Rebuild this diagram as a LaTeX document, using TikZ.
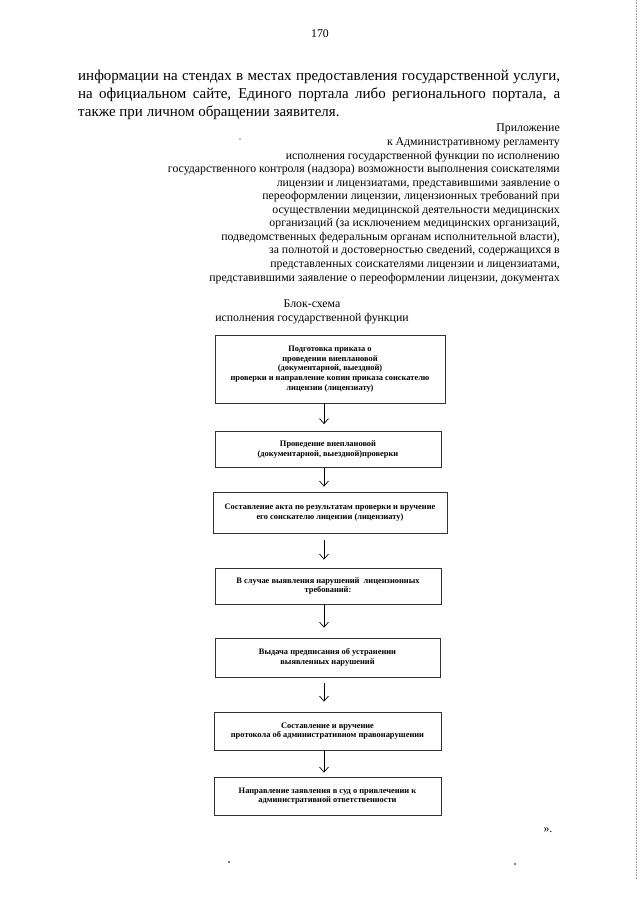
\documentclass[tikz,border=0pt]{standalone}
\usepackage{fontspec}
\setmainfont{Liberation Serif}
\usetikzlibrary{arrows.meta}
\begin{document}
\begin{tikzpicture}[x=1pt,y=-1pt,
  boxst/.style={draw=black!80, line width=0.8pt, rectangle, inner sep=0pt, align=center,
    font=\fontsize{8.4}{9.6}\selectfont\bfseries},
  arr/.style={draw=black, line width=0.7pt, -{Straight Barb[length=5pt,width=9pt]}},
  plain/.style={inner sep=0pt, font=\fontsize{11.8}{13.55}\selectfont},
  dotst/.style={fill=black}
]
\useasboundingbox (0,0) rectangle (640,905);
\fill[white] (0,0) rectangle (640,905);

% page number
\node[plain, anchor=base] (pnum) at (320,37) {170};

% body text (base anchor = last line)
\node[inner sep=0pt, anchor=base west, align=left, font=\fontsize{15}{18}\selectfont] (body) at (78,116)
{\makebox[482pt][s]{информации на стендах в местах предоставления государственной услуги,}\\
 \makebox[482pt][s]{на официальном сайте, Единого портала либо регионального портала, а}\\
 также при личном обращении заявителя.};

% appendix heading (base anchor = last line)
\node[plain, anchor=base east, align=right] (app) at (560,281)
{Приложение\\
к Административному регламенту\\
исполнения государственной функции по исполнению\\
государственного контроля (надзора) возможности выполнения соискателями\\
лицензии и лицензиатами, представившими заявление о\\
переоформлении лицензии, лицензионных требований при\\
осуществлении медицинской деятельности медицинских\\
организаций (за исключением медицинских организаций,\\
подведомственных федеральным органам исполнительной власти),\\
за полнотой и достоверностью сведений, содержащихся в\\
представленных соискателями лицензии и лицензиатами,\\
представившими заявление о переоформлении лицензии, документах};

% title
\node[plain, anchor=base, align=center] (title) at (312,321)
{Блок-схема\\исполнения государственной функции};

% boxes
\node[boxst, minimum width=230, minimum height=68] (b1) at (330,369)
{Подготовка приказа о\\проведении внеплановой\\(документарной, выездной)\\проверки и направление копии приказа соискателю\\лицензии (лицензиату)};
\node[boxst, minimum width=226, minimum height=36] (b2) at (328,449.5)
{Проведение внеплановой\\(документарной, выездной)проверки};
\node[boxst, minimum width=234, minimum height=41] (b3) at (330,512.5)
{Составление акта по результатам проверки и вручение\\его соискателю лицензии (лицензиату)};
\node[boxst, minimum width=226, minimum height=36] (b4) at (328,586)
{В случае выявления нарушений\ \ лицензионных\\требований:};
\node[boxst, minimum width=225, minimum height=39] (b5) at (327.5,657.5)
{Выдача предписания об устранении\\выявленных нарушений};
\node[boxst, minimum width=227, minimum height=38] (b6) at (327.5,731)
{Составление и вручение\\протокола об административном правонарушении};
\node[boxst, minimum width=227, minimum height=38] (b7) at (327.5,796)
{Направление заявления в суд о привлечении к\\административной ответственности};

% arrows
\coordinate (ax) at (324,0);
\draw[arr, shorten >=7pt] (b1.south -| ax) -- (b2.north -| ax);
\draw[arr, shorten >=5pt] (b2.south -| ax) -- (b3.north -| ax);
\draw[arr, shorten <=7pt, shorten >=8pt] (b3.south -| ax) -- (b4.north -| ax);
\draw[arr, shorten >=10pt] (b4.south -| ax) -- (b5.north -| ax);
\draw[arr, shorten <=6pt, shorten >=10pt] (b5.south -| ax) -- (b6.north -| ax);
\draw[arr, shorten >=4pt] (b6.south -| ax) -- (b7.north -| ax);

% closing quote
\node[plain, anchor=base] (quote) at (548,832) {».};

% scan specks
\fill[dotst] (240,139) circle (0.7);
\fill[dotst] (229,862) circle (0.9);
\fill[dotst] (515,864) circle (0.9);
\draw[black!40, line width=0.6pt, densely dotted] (636,0) -- (636,880);
\end{tikzpicture}
\end{document}
